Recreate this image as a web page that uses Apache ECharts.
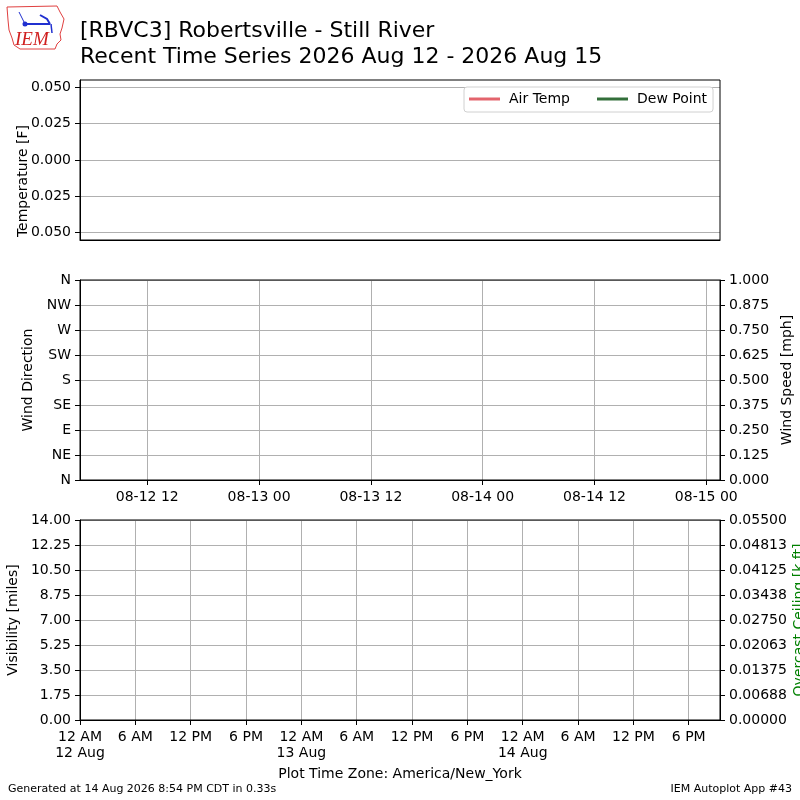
<!DOCTYPE html>
<html>
<head>
<meta charset="utf-8">
<script src="https://cdn.jsdelivr.net/npm/echarts@6/dist/echarts.min.js"></script>
<style>
  html, body { margin: 0; padding: 0; background: #fff; }
  #chart { width: 800px; height: 800px; }
</style>
</head>
<body>
<div id="chart"></div>
<script>
// x values are hours since 2026-08-12 00:00 (America/New_York)
// station reported nothing in the window, so every series is empty
var airTemp = [];
var dewPoint = [];
var windDir = [];
var windSpeed = [];
var visibility = [];
var ceiling = [];

// tick positions and labels
var tempTicks = [-0.05, -0.025, 0, 0.025, 0.05];
var tempLabels = ['0.050', '0.025', '0.000', '0.025', '0.050'];

var dirTicks = [0, 45, 90, 135, 180, 225, 270, 315, 360];
var dirLabels = ['N', 'NE', 'E', 'SE', 'S', 'SW', 'W', 'NW', 'N'];

var speedTicks = [0, 0.125, 0.25, 0.375, 0.5, 0.625, 0.75, 0.875, 1];
var speedLabels = ['0.000', '0.125', '0.250', '0.375', '0.500', '0.625', '0.750', '0.875', '1.000'];

var windHours = [12, 24, 36, 48, 60, 72];
var windHourLabels = ['08-12 12', '08-13 00', '08-13 12', '08-14 00', '08-14 12', '08-15 00'];

var visTicks = [0, 1.75, 3.5, 5.25, 7, 8.75, 10.5, 12.25, 14];
var visLabels = ['0.00', '1.75', '3.50', '5.25', '7.00', '8.75', '10.50', '12.25', '14.00'];

var ceilTicks = [0, 0.006875, 0.01375, 0.020625, 0.0275, 0.034375, 0.04125, 0.048125, 0.055];
var ceilLabels = ['0.00000', '0.00688', '0.01375', '0.02063', '0.02750', '0.03438', '0.04125', '0.04813', '0.05500'];

var visHours = [0, 6, 12, 18, 24, 30, 36, 42, 48, 54, 60, 66];
var visHourLabels = ['12 AM\n12 Aug', '6 AM', '12 PM', '6 PM', '12 AM\n13 Aug', '6 AM', '12 PM', '6 PM',
                     '12 AM\n14 Aug', '6 AM', '12 PM', '6 PM'];

var FONT = 'DejaVu Sans';
var GRIDC = '#b0b0b0';

function pick(ticks, labels) {
    return function (v) {
        for (var i = 0; i < ticks.length; i++) {
            if (Math.abs(ticks[i] - v) < 1e-9) return labels[i];
        }
        return '';
    };
}

function yAx(grid, pos, min, max, ticks, labels, split) {
    return {
        type: 'value', gridIndex: grid, position: pos, min: min, max: max,
        axisLine: { show: true, onZero: false, lineStyle: { color: '#000', width: 1 } },
        axisTick: { show: true, length: 5, inside: false, customValues: ticks, lineStyle: { color: '#000' } },
        axisLabel: { customValues: ticks, margin: 9, color: '#000', fontFamily: FONT, fontSize: 14,
                     formatter: pick(ticks, labels) },
        splitLine: { show: split, lineStyle: { color: GRIDC, width: 1 } }
    };
}

function xAx(grid, min, max, ticks, labels, show) {
    return {
        type: 'value', gridIndex: grid, min: min, max: max,
        axisLine: { show: true, onZero: false, lineStyle: { color: '#000', width: 1 } },
        axisTick: { show: show, length: 5, customValues: ticks, lineStyle: { color: '#000' } },
        axisLabel: { show: show, customValues: ticks, margin: 9, color: '#000', fontFamily: FONT,
                     fontSize: 14, lineHeight: 16, formatter: pick(ticks, labels) },
        splitLine: { show: show, lineStyle: { color: GRIDC, width: 1 } }
    };
}

function gridBox(top, height) {
    return {
        left: 80, top: top, width: 640, height: height,
        containLabel: false, outerBoundsMode: 'none',
        show: true, borderColor: '#000', borderWidth: 1, z: 5
    };
}

var nameStyle = { fontFamily: FONT, fontSize: 14, color: '#000' };

var myChart = echarts.init(document.getElementById('chart'), null, { renderer: 'canvas' });

var option = {
    backgroundColor: '#fff',
    animation: false,
    textStyle: { fontFamily: FONT },
    title: {
        text: '[RBVC3] Robertsville - Still River\nRecent Time Series 2026 Aug 12 - 2026 Aug 15',
        left: 80, top: 18, padding: 0,
        textStyle: { fontFamily: FONT, fontSize: 22, fontWeight: 'normal', color: '#000', lineHeight: 26 }
    },
    legend: {
        data: ['Air Temp', 'Dew Point'],
        left: 464, top: 87,
        padding: [5, 6, 6, 5],
        itemGap: 27,
        icon: 'rect', itemWidth: 31, itemHeight: 3,
        backgroundColor: '#fff', borderColor: '#d0d0d0', borderWidth: 1, borderRadius: 3,
        textStyle: { fontFamily: FONT, fontSize: 14, color: '#000', padding: [0, 0, 0, 4] }
    },
    grid: [gridBox(80, 160), gridBox(280, 200), gridBox(520, 200)],
    xAxis: [
        xAx(0, 4.78, 73.47, windHours, windHourLabels, false),
        xAx(1, 4.78, 73.47, windHours, windHourLabels, true),
        xAx(2, 0, 69.39, visHours, visHourLabels, true)
    ],
    yAxis: [
        yAx(0, 'left', -0.055, 0.055, tempTicks, tempLabels, true),
        Object.assign(yAx(1, 'left', 0, 360, dirTicks, dirLabels, true),
            { name: 'Wind Direction', nameLocation: 'middle', nameGap: 35.5, nameTextStyle: nameStyle }),
        Object.assign(yAx(1, 'right', 0, 1, speedTicks, speedLabels, false),
            { name: 'Wind Speed [mph]', nameLocation: 'middle', nameGap: 51, nameTextStyle: nameStyle }),
        Object.assign(yAx(2, 'left', 0, 14, visTicks, visLabels, true),
            { name: 'Visibility [miles]', nameLocation: 'middle', nameGap: 53.5, nameTextStyle: nameStyle }),
        Object.assign(yAx(2, 'right', 0, 0.055, ceilTicks, ceilLabels, false),
            { name: 'Overcast Ceiling [k ft]', nameLocation: 'middle', nameGap: 72, nameMoveOverlap: false,
              nameTextStyle: { fontFamily: FONT, fontSize: 14, color: '#008000' } })
    ],
    series: [
        { name: 'Air Temp', type: 'line', xAxisIndex: 0, yAxisIndex: 0, data: airTemp,
          showSymbol: false, color: '#e3646c', lineStyle: { width: 2 } },
        { name: 'Dew Point', type: 'line', xAxisIndex: 0, yAxisIndex: 0, data: dewPoint,
          showSymbol: false, color: '#336f3a', lineStyle: { width: 2 } },
        { name: 'Wind Direction', type: 'scatter', xAxisIndex: 1, yAxisIndex: 1, data: windDir,
          symbolSize: 4, color: '#1f77b4' },
        { name: 'Wind Speed', type: 'line', xAxisIndex: 1, yAxisIndex: 2, data: windSpeed,
          showSymbol: false, color: '#ff7f0e' },
        { name: 'Visibility', type: 'line', xAxisIndex: 2, yAxisIndex: 3, data: visibility,
          showSymbol: false, color: '#1f77b4' },
        { name: 'Overcast Ceiling', type: 'line', xAxisIndex: 2, yAxisIndex: 4, data: ceiling,
          showSymbol: false, color: '#008000' }
    ],
    graphic: [
        // IEM logo, rough
        { type: 'polyline', shape: { points: [[7, 7], [57, 6], [60, 12], [64, 19], [62, 28], [60, 34],
              [61, 40], [57, 44], [55, 49], [20, 49], [14, 45], [12, 38], [9, 30], [8, 20], [7, 7]] },
          style: { stroke: '#e04040', lineWidth: 1, fill: 'none' } },
        { type: 'line', shape: { x1: 24, y1: 24, x2: 50, y2: 24 }, style: { stroke: '#2030d0', lineWidth: 2 } },
        { type: 'circle', shape: { cx: 25, cy: 24, r: 2.5 }, style: { fill: '#2030d0' } },
        { type: 'polyline', shape: { points: [[40, 15], [47, 19], [50, 24]] }, style: { stroke: '#2030d0', lineWidth: 2, fill: 'none' } },
        { type: 'line', shape: { x1: 19, y1: 12, x2: 24, y2: 22 }, style: { stroke: '#2030d0', lineWidth: 1 } },
        { type: 'line', shape: { x1: 51, y1: 24, x2: 52, y2: 33 }, style: { stroke: '#2030d0', lineWidth: 1.5 } },
        { type: 'text', x: 15, y: 30, style: { text: 'IEM', font: 'italic 19px "Liberation Serif"', fill: '#d02020' } },
        // temperature axis title (sits a bit below the panel middle in the original)
        { type: 'text', x: 23, y: 181, rotation: Math.PI / 2,
          style: { text: 'Temperature [F]', font: '14px "DejaVu Sans"', fill: '#000', align: 'center', verticalAlign: 'middle' } },
        { type: 'text', x: 400, y: 774,
          style: { text: 'Plot Time Zone: America/New_York', font: '14px "DejaVu Sans"', fill: '#000', align: 'center', verticalAlign: 'middle' } },
        { type: 'text', x: 8, y: 789,
          style: { text: 'Generated at 14 Aug 2026 8:54 PM CDT in 0.33s', font: '11px "DejaVu Sans"', fill: '#000', align: 'left', verticalAlign: 'middle' } },
        { type: 'text', x: 792, y: 789,
          style: { text: 'IEM Autoplot App #43', font: '11px "DejaVu Sans"', fill: '#000', align: 'right', verticalAlign: 'middle' } }
    ]
};

myChart.setOption(option);
</script>
</body>
</html>
